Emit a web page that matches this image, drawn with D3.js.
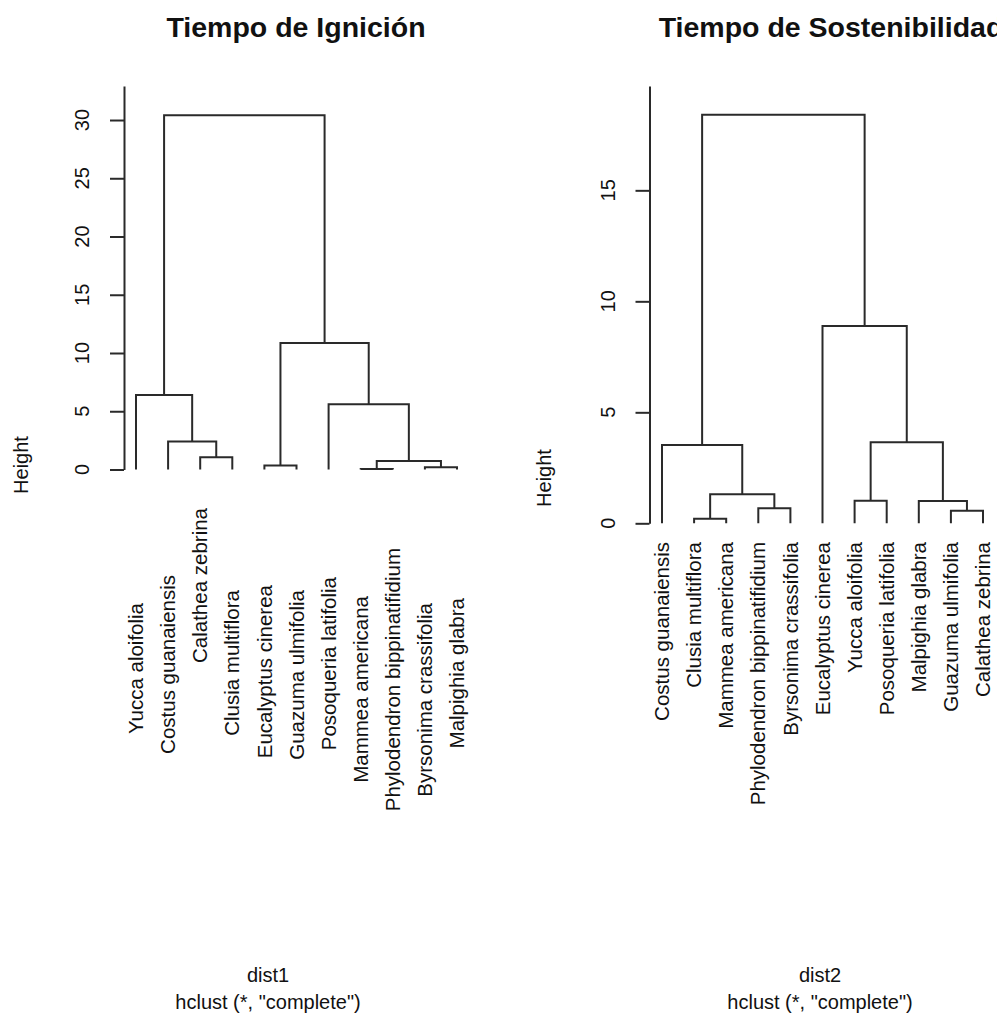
<!DOCTYPE html>
<html><head><meta charset="utf-8">
<script src="https://cdn.jsdelivr.net/npm/d3@7"></script>
<style>body{margin:0;background:#fff}svg text{font-family:"Liberation Sans",Arial,sans-serif;fill:#111}</style>
</head><body><svg id="c" width="997" height="1015"></svg>
<script>
// ---- data ----
const titles = ["Tiempo de Ignición", "Tiempo de Sostenibilidad"];
const xLabels = ["dist1", "dist2"];
const subLabel = 'hclust (*, "complete")';
const yLabel = "Height";

const leftLeaves = ["Yucca aloifolia","Costus guanaiensis","Calathea zebrina","Clusia multiflora","Eucalyptus cinerea","Guazuma ulmifolia","Posoqueria latifolia","Mammea americana","Phylodendron bippinatifidium","Byrsonima crassifolia","Malpighia glabra"];
const leftMerges = [[-8,-9],[-10,-11],[-5,-6],[1,2],[-3,-4],[-2,5],[-7,4],[-1,6],[3,7],[8,9]];
const leftHeights = [0.05,0.2,0.35,0.73,1.05,2.4,5.6,6.4,10.85,30.4];
const leftTicks = [0,5,10,15,20,25,30];

const rightLeaves = ["Costus guanaiensis","Clusia multiflora","Mammea americana","Phylodendron bippinatifidium","Byrsonima crassifolia","Eucalyptus cinerea","Yucca aloifolia","Posoqueria latifolia","Malpighia glabra","Guazuma ulmifolia","Calathea zebrina"];
const rightMerges = [[-2,-3],[-10,-11],[-4,-5],[-9,2],[-7,-8],[1,3],[-1,6],[5,4],[-6,8],[7,9]];
const rightHeights = [0.2,0.57,0.68,1.0,1.02,1.31,3.53,3.65,8.89,18.4];
const rightTicks = [0,5,10,15];

// ---- layout ----
const svg = d3.select("#c");
const panels = [
  {leaves:leftLeaves, merges:leftMerges, heights:leftHeights, ticks:leftTicks,
   x0:136, x1:457, axisX:124, yTop:86, yMaxVal:32.92, y0:469.5, titleX:296, subX:268,
   tickLabX:89, ylabX:28, ylabY:465, labelTop:[603,575,508,590,585,590,577,596,548,603,598]},
  {leaves:rightLeaves, merges:rightMerges, heights:rightHeights, ticks:rightTicks,
   x0:662, x1:983, axisX:649.5, yTop:86, yMaxVal:19.7, y0:523.3, titleX:831, subX:820,
   tickLabX:615, ylabX:551, ylabY:478, labelTop:null}
];

panels.forEach((p, pi) => {
  const g = svg.append("g");
  const x = d3.scalePoint().domain(p.leaves).range([p.x0, p.x1]);
  const y = d3.scaleLinear().domain([0, p.yMaxVal]).range([p.y0, p.yTop]);

  // axis
  const ax = g.append("g").attr("transform", `translate(${p.axisX},0)`)
    .call(d3.axisLeft(y).tickValues(p.ticks).tickSize(14).tickSizeOuter(0).tickFormat(""));
  ax.selectAll("path,line").attr("stroke", "#2a2a2a").attr("stroke-width", 2);
  g.selectAll("text.tick").data(p.ticks).join("text")
    .attr("transform", d => `translate(${p.tickLabX},${y(d)}) rotate(-90)`)
    .attr("text-anchor", "middle").attr("font-size", 20).text(d => d);

  // dendrogram
  const nodes = [];
  const pt = (c) => c < 0 ? {x: x(p.leaves[-c-1]), y: y(0)} : nodes[c-1];
  p.merges.forEach((m, i) => {
    const a = pt(m[0]), b = pt(m[1]);
    const hy = y(p.heights[i]);
    nodes.push({x: (a.x + b.x) / 2, y: hy});
    g.append("path")
      .attr("d", `M${a.x},${a.y}V${hy}H${b.x}V${b.y}`)
      .attr("fill", "none").attr("stroke", "#2a2a2a").attr("stroke-width", 2);
  });

  // leaf labels
  g.selectAll("text.leaf").data(p.leaves).join("text")
    .attr("transform", (d, i) => `translate(${x(d)},${p.labelTop ? p.labelTop[i] : 542}) rotate(-90)`)
    .attr("text-anchor", "end").attr("dy", "0.35em").attr("font-size", 20.5).text(d => d);

  // titles and labels
  g.append("text").attr("x", p.titleX).attr("y", 37).attr("text-anchor", "middle")
    .attr("font-size", 28.5).attr("font-weight", "bold").text(titles[pi]);
  g.append("text").attr("transform", `translate(${p.ylabX},${p.ylabY}) rotate(-90)`)
    .attr("text-anchor", "middle").attr("font-size", 20).text(yLabel);
  g.append("text").attr("x", p.subX).attr("y", 982).attr("text-anchor", "middle")
    .attr("font-size", 20).text(xLabels[pi]);
  g.append("text").attr("x", p.subX).attr("y", 1009).attr("text-anchor", "middle")
    .attr("font-size", 20).text(subLabel);
});
</script></body></html>
